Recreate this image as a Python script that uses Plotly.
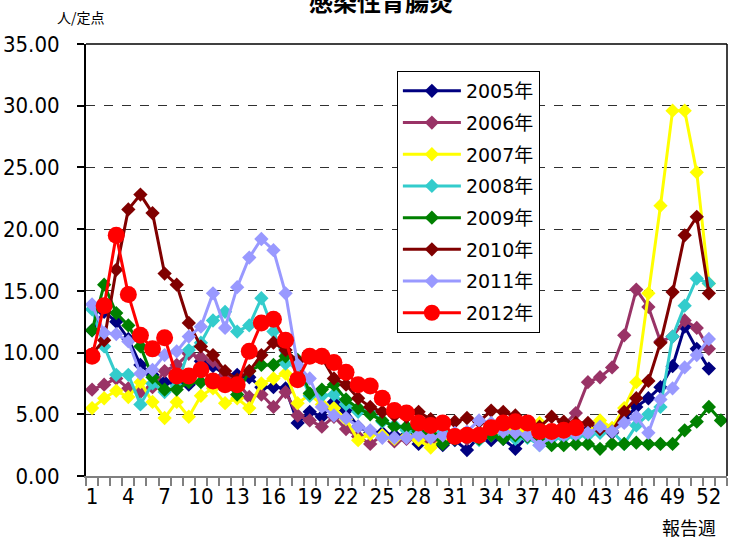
import plotly.graph_objects as go

weeks = list(range(1, 54))
tick_weeks = list(range(1, 53, 3))

years = ["2005年", "2006年", "2007年", "2008年", "2009年", "2010年", "2011年", "2012年"]

y2005 = [11.8, 13.3, 12.5, 11.1, 9.0, 8.2, 7.6, 7.5, 7.4, 9.3, 8.9, 8.2, 8.2, 8.0, 7.2, 7.2, 7.1, 4.3, 5.2, 4.8,
         6.0, 5.3, 4.0, 3.5, 3.5, 3.3, 3.3, 2.6, 2.8, 2.5, 2.9, 2.1, 3.2, 2.9, 3.0, 2.2, 3.2, 3.3, 3.5, 3.6,
         3.6, 3.7, 3.8, 3.5, 4.6, 5.6, 6.3, 7.2, 8.9, 12.1, 10.3, 8.7]
y2006 = [7.0, 7.4, 7.9, 7.1, 6.8, 7.2, 8.5, 9.0, 9.9, 9.6, 9.3, 8.2, 7.6, 6.4, 6.6, 5.6, 6.8, 4.9, 4.5, 4.0,
         4.8, 3.8, 3.2, 2.6, 3.3, 2.8, 3.0, 3.0, 2.7, 3.0, 3.2, 3.0, 3.3, 3.3, 3.4, 3.5, 3.2, 3.3, 3.4, 4.1,
         5.1, 7.6, 8.0, 8.8, 11.4, 15.1, 13.7, 10.9, 11.3, 12.6, 12.0, 10.3]
y2007 = [5.5, 6.3, 6.9, 6.4, 7.6, 6.0, 4.7, 6.0, 4.8, 6.5, 7.1, 5.9, 6.3, 5.5, 7.5, 7.9, 8.3, 5.9, 6.6, 5.8,
         5.5, 4.6, 2.9, 3.4, 3.3, 3.0, 3.2, 2.9, 2.3, 3.0, 3.2, 3.5, 3.3, 3.4, 3.5, 3.8, 3.5, 4.3, 3.4, 3.3,
         3.5, 3.5, 4.5, 3.9, 5.5, 7.6, 14.8, 21.9, 29.6, 29.6, 24.6, 15.6]
y2008 = [13.5, 10.5, 8.2, 8.2, 5.8, 7.5, 6.8, 7.3, 10.2, 10.8, 12.6, 13.3, 11.7, 12.2, 14.4, 11.7, 9.1, 8.9, 6.5, 6.5,
         6.6, 5.8, 5.2, 5.3, 4.4, 4.1, 3.7, 3.5, 3.3, 3.5, 3.1, 3.3, 2.9, 3.3, 3.2, 3.0, 3.1, 2.5, 3.0, 3.1,
         3.2, 3.3, 3.5, 3.6, 2.6, 4.1, 5.0, 5.6, 11.3, 13.8, 16.0, 15.6]
y2009 = [11.8, 15.5, 13.2, 12.2, 10.5, 8.0, 7.0, 7.0, 7.6, 7.6, 7.6, 7.5, 6.6, 8.5, 9.0, 9.0, 9.7, 9.4, 6.7, 7.0,
         7.4, 6.2, 5.5, 5.0, 4.5, 4.0, 4.0, 3.6, 3.4, 2.6, 3.0, 3.2, 3.0, 3.3, 3.0, 3.3, 3.2, 2.9, 2.5, 2.5,
         2.6, 2.6, 2.2, 2.6, 2.6, 2.7, 2.6, 2.6, 2.6, 3.7, 4.4, 5.6, 4.5]
y2010 = [9.9, 11.0, 16.7, 21.6, 22.8, 21.3, 16.4, 15.5, 12.4, 10.5, 9.8, 8.5, 7.8, 8.5, 9.8, 10.8, 10.2, 9.3, 9.8, 9.6,
         7.9, 7.4, 6.3, 5.6, 5.2, 4.9, 4.8, 5.2, 4.6, 4.2, 4.4, 4.7, 4.4, 5.3, 5.2, 4.9, 4.3, 4.0, 4.8, 4.4,
         4.3, 4.3, 3.8, 3.6, 5.2, 6.3, 7.7, 10.8, 14.9, 19.5, 21.0, 14.8]
y2011 = [13.9, 11.6, 11.5, 10.9, 8.3, 8.6, 9.8, 10.1, 11.3, 12.1, 14.8, 12.0, 15.3, 17.7, 19.2, 18.3, 14.8, 9.0, 7.9, 5.6,
         4.9, 4.7, 4.0, 3.7, 3.1, 3.1, 3.1, 3.3, 3.1, 3.3, 3.5, 3.6, 4.5, 4.3, 3.6, 3.5, 3.3, 2.5, 3.2, 3.3,
         3.4, 3.5, 4.0, 3.6, 4.3, 4.8, 3.5, 6.2, 7.1, 8.8, 9.8, 11.1]
y2012 = [9.7, 13.8, 19.5, 14.7, 11.4, 10.3, 11.2, 8.1, 8.1, 8.6, 7.7, 7.4, 7.4, 10.1, 12.4, 12.7, 11.0, 7.8, 9.7, 9.7,
         9.2, 8.4, 7.4, 7.3, 6.3, 5.3, 5.1, 4.3, 4.1, 4.3, 3.2, 3.3, 3.3, 3.9, 4.3, 4.4, 4.3, 3.6, 3.6, 3.7,
         3.9]

series = [y2005, y2006, y2007, y2008, y2009, y2010, y2011, y2012]
colors = ["#000080", "#993366", "#FFFF00", "#33CCCC", "#008000", "#800000", "#9999FF", "#FF0000"]

fig = go.Figure()
for i, (name, ys, c) in enumerate(zip(years, series, colors)):
    is_last = (i == len(years) - 1)
    fig.add_trace(go.Scatter(
        x=weeks[:len(ys)], y=ys, name=name, mode="lines+markers",
        line=dict(color=c, width=3),
        marker=dict(symbol="circle" if is_last else "diamond",
                    size=17 if is_last else 11, color=c),
        legendgroup=name,
    ))

num_font = "Liberation Sans Narrow, DejaVu Sans Condensed, Noto Sans CJK JP, sans-serif"

fig.update_layout(
    width=735, height=540,
    margin=dict(l=86, r=8, t=44, b=64),
    paper_bgcolor="white", plot_bgcolor="white",
    showlegend=True,
    legend=dict(x=0.485, y=0.9375, xanchor="left", yanchor="top",
                bgcolor="white", bordercolor="black", borderwidth=1,
                font=dict(family="DejaVu Sans, Noto Sans CJK JP, sans-serif", size=19, color="black"),
                tracegroupgap=4, itemwidth=58, entrywidth=80, entrywidthmode="pixels"),
    xaxis=dict(range=[0.5, 53.5], tickmode="array", tickvals=tick_weeks,
               ticktext=[str(w) for w in tick_weeks], ticks="",
               showline=True, linecolor="#808080", linewidth=1.5,
               showgrid=False, zeroline=False, automargin=False,
               tickfont=dict(family=num_font, size=22, color="black"),
               minor=dict(tickmode="linear", tick0=0.5, dtick=1, ticks="outside",
                          ticklen=8, tickcolor="#808080", tickwidth=1.5, showgrid=False)),
    yaxis=dict(range=[0, 35], tickmode="linear", tick0=0, dtick=5, tickformat=".2f",
               ticks="outside", ticklen=7, tickcolor="black", tickwidth=1.5,
               showline=True, linecolor="black", linewidth=2,
               showgrid=True, gridcolor="#303030", griddash="dash", gridwidth=1,
               zeroline=False, ticklabelstandoff=13, automargin=False,
               tickfont=dict(family=num_font, size=22, color="black")),
    shapes=[
        dict(type="line", xref="paper", yref="paper", x0=0, x1=1, y0=1, y1=1,
             line=dict(color="black", width=1.5)),
        dict(type="line", xref="paper", yref="paper", x0=1, x1=1, y0=0, y1=1,
             line=dict(color="black", width=1.5)),
    ],
    annotations=[
        dict(text="<b>感染性胃腸炎</b>", xref="paper", yref="paper", x=0.46, y=1.1, xanchor="center",
             yanchor="middle", showarrow=False,
             font=dict(family="Noto Sans CJK JP, sans-serif", size=24, color="black")),
        dict(text="人/定点", xref="paper", yref="paper", x=-0.048, y=1.0625, xanchor="left",
             yanchor="middle", showarrow=False,
             font=dict(family="Noto Sans CJK JP, sans-serif", size=14, color="black")),
        dict(text="報告週", xref="paper", yref="paper", x=0.986, y=-0.118, xanchor="right",
             yanchor="middle", showarrow=False,
             font=dict(family="Noto Sans CJK JP, sans-serif", size=18, color="black")),
    ],
)

fig.write_html("out.html", config={"displayModeBar": False},
               post_script="document.body.style.margin='0';")
